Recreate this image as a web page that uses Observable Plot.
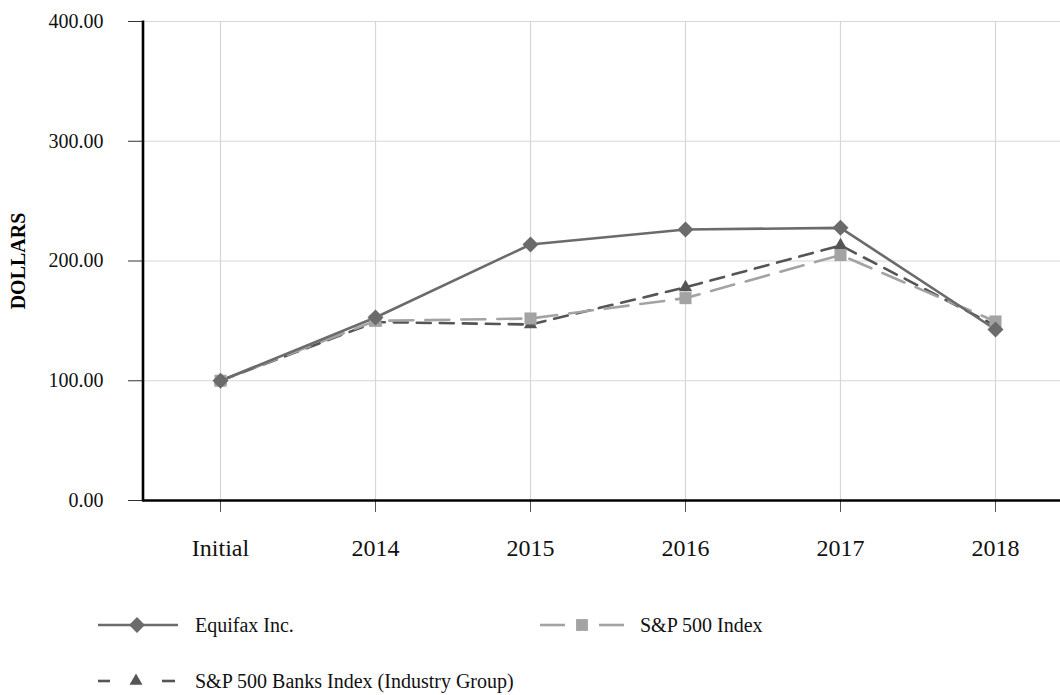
<!DOCTYPE html>
<html>
<head>
<meta charset="utf-8">
<script src="https://cdn.jsdelivr.net/npm/d3@7"></script>
<script src="https://cdn.jsdelivr.net/npm/@observablehq/plot@0.6"></script>
<style>
  html, body { margin: 0; padding: 0; background: #fff; }
  #wrap { position: relative; width: 1060px; height: 695px; overflow: hidden; }
  #legend { display: block; }
</style>
</head>
<body>
<div id="wrap"></div>
<script>
const categories = ["Initial", "2014", "2015", "2016", "2017", "2018"];
const equifax = [100, 152.8, 213.8, 226.3, 227.7, 142.8];
const sp500 = [100, 150, 152, 169, 205, 149.5];
const banks = [100, 149, 147, 178, 213, 146];
const yTicks = [0, 100, 200, 300, 400];
const seriesNames = ["Equifax Inc.", "S&P 500 Index", "S&P 500 Banks Index (Industry Group)"];
const seriesColors = ["#6b6b6b", "#a3a3a3", "#555555"];
const seriesDash = [null, "24,12", "14,9"];
const seriesSymbols = ["diamond2", "square", "triangle2"];

const rows = (name, vals) => categories.map((c, i) => ({ series: name, cat: c, value: vals[i] }));
const dEq = rows(seriesNames[0], equifax);
const dSp = rows(seriesNames[1], sp500);
const dBk = rows(seriesNames[2], banks);

const FONT = "'Liberation Serif', 'Times New Roman', serif";

const leftAxisLine = (index, scales, values, dimensions) => {
  const g = d3.create("svg:g");
  g.append("line")
    .attr("x1", dimensions.marginLeft).attr("x2", dimensions.marginLeft)
    .attr("y1", dimensions.marginTop - 0.5).attr("y2", dimensions.height - dimensions.marginBottom + 1.5)
    .attr("stroke", "#000").attr("stroke-width", 2.6);
  return g.node();
};

const chart = Plot.plot({
  width: 1060,
  height: 580,
  marginLeft: 143,
  marginRight: 0,
  marginTop: 21,
  marginBottom: 80,
  style: { fontFamily: FONT, background: "#fff", color: "#000" },
  x: { type: "point", domain: categories, range: [219, 995], padding: 0 },
  y: { domain: [0, 400] },
  marks: [
    Plot.gridY(yTicks, { stroke: "#d6d6d6", strokeOpacity: 1, strokeWidth: 1.2 }),
    Plot.gridX(categories, { stroke: "#d6d6d6", strokeOpacity: 1, strokeWidth: 1.2 }),
    Plot.axisY(yTicks, {
      tickFormat: d3.format(".2f"), tickSize: 15, tickPadding: 25,
      fontSize: 20, stroke: "#333", label: null, fill: "#111"
    }),
    Plot.axisX(categories, {
      tickSize: 12, tickPadding: 26, fontSize: 24, stroke: "#555", label: null, fill: "#111"
    }),
    Plot.text(["DOLLARS"], {
      frameAnchor: "left", dx: -125, rotate: -90, textAnchor: "middle",
      fontSize: 20, fontWeight: "bold", fill: "#000"
    }),
    Plot.line(dBk, { x: "cat", y: "value", stroke: seriesColors[2], strokeWidth: 2.6, strokeDasharray: seriesDash[2] }),
    Plot.line(dSp, { x: "cat", y: "value", stroke: seriesColors[1], strokeWidth: 2.6, strokeDasharray: seriesDash[1] }),
    Plot.line(dEq, { x: "cat", y: "value", stroke: seriesColors[0], strokeWidth: 2.6 }),
    Plot.dot(dBk, { x: "cat", y: "value", symbol: seriesSymbols[2], r: 6.3, fill: seriesColors[2], stroke: "none" }),
    Plot.dot(dSp, { x: "cat", y: "value", symbol: seriesSymbols[1], r: 6.8, fill: seriesColors[1], stroke: "none" }),
    Plot.dot(dEq, { x: "cat", y: "value", symbol: seriesSymbols[0], r: 7.2, fill: seriesColors[0], stroke: "none" }),
    Plot.ruleY([0], { stroke: "#000", strokeWidth: 2.6 }),
    leftAxisLine
  ]
});
document.getElementById("wrap").appendChild(chart);

// Legend (below the chart SVG)
const legendItems = [
  { name: seriesNames[0], color: seriesColors[0], symbol: d3.symbolDiamond2, size: 160, x0: 98, x1: 178, mx: 137, tx: 195, cy: 45, segs: null },
  { name: seriesNames[1], color: seriesColors[1], symbol: d3.symbolSquare, size: 140, x0: 540, x1: 625, mx: 582, tx: 640, cy: 45, segs: [[540, 565], [599, 624]] },
  { name: seriesNames[2], color: seriesColors[2], symbol: d3.symbolTriangle2, size: 120, x0: 98, x1: 175, mx: 136, tx: 195, cy: 101, segs: [[98, 110], [162, 175]] }
];
const leg = d3.select("#wrap").append("svg")
  .attr("id", "legend").attr("width", 1060).attr("height", 115)
  .style("font-family", FONT);
for (const it of legendItems) {
  const g = leg.append("g");
  if (it.segs) {
    for (const s of it.segs) {
      g.append("line").attr("x1", s[0]).attr("x2", s[1]).attr("y1", it.cy).attr("y2", it.cy)
        .attr("stroke", it.color).attr("stroke-width", 2.6);
    }
  } else {
    g.append("line").attr("x1", it.x0).attr("x2", it.x1).attr("y1", it.cy).attr("y2", it.cy)
      .attr("stroke", it.color).attr("stroke-width", 2.6);
  }
  g.append("path").attr("d", d3.symbol(it.symbol, it.size)())
    .attr("transform", `translate(${it.mx},${it.cy})`).attr("fill", it.color);
  g.append("text").attr("x", it.tx).attr("y", it.cy).attr("dy", "0.35em")
    .attr("font-size", 20).attr("fill", "#111").text(it.name);
}
</script>
</body>
</html>
